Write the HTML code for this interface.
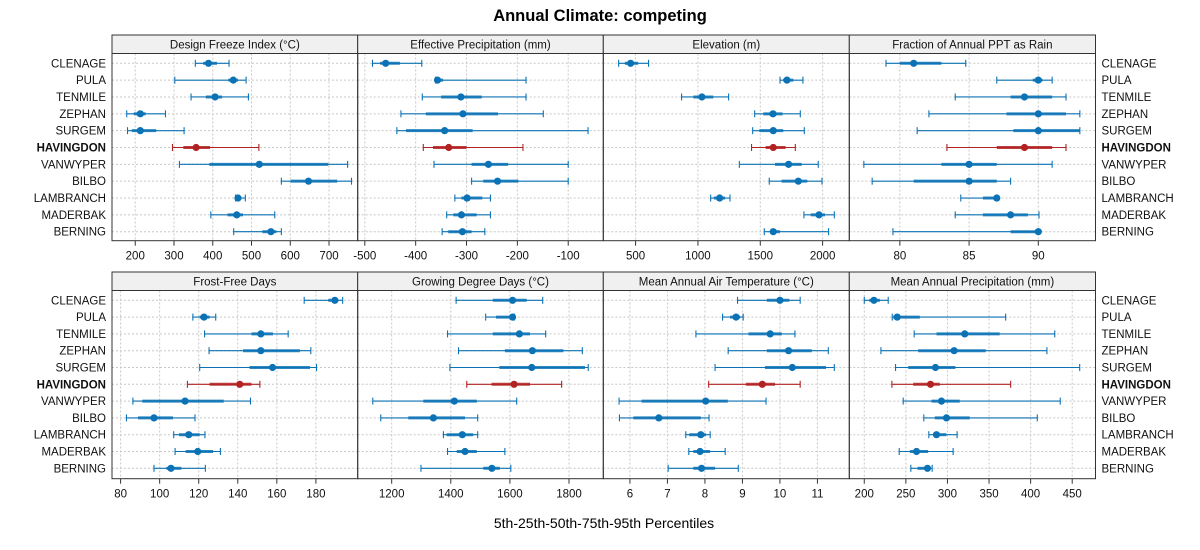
<!DOCTYPE html>
<html><head><meta charset="utf-8"><style>
body{margin:0;background:#fff;}
svg{display:block;font-family:"Liberation Sans",sans-serif;}
</style></head><body>
<svg id="chart" width="1200" height="550" viewBox="0 0 1200 550" xmlns="http://www.w3.org/2000/svg">
<text x="600" y="21" text-anchor="middle" font-size="16.5" font-weight="bold">Annual Climate: competing</text>
<text x="604" y="528" text-anchor="middle" font-size="14">5th-25th-50th-75th-95th Percentiles</text>
</svg>
<script>
const categories = ["CLENAGE","PULA","TENMILE","ZEPHAN","SURGEM","HAVINGDON","VANWYPER","BILBO","LAMBRANCH","MADERBAK","BERNING"];
const highlight = "HAVINGDON";
const panelTitles = ["Design Freeze Index (°C)","Effective Precipitation (mm)","Elevation (m)","Fraction of Annual PPT as Rain","Frost-Free Days","Growing Degree Days (°C)","Mean Annual Air Temperature (°C)","Mean Annual Precipitation (mm)"];
const designFreeze = [[355,375,389,411,442],[302,440,453,465,486],[344,382,406,424,492],[178,196,213,227,278],[180,191,213,254,326],[296,324,357,393,519],[314,391,520,698,748],[577,601,647,721,758],[459,462,465,474,484],[395,438,462,478,560],[454,528,550,564,577]];
const effPrecip = [[-485,-470,-459,-431,-388],[-361,-360,-357,-346,-183],[-387,-350,-311,-270,-183],[-429,-380,-307,-238,-149],[-437,-419,-343,-288,-61],[-385,-366,-335,-300,-189],[-364,-290,-257,-218,-100],[-290,-267,-239,-198,-100],[-323,-310,-299,-269,-253],[-339,-326,-310,-280,-253],[-348,-336,-308,-290,-264]];
const elevation = [[364,414,460,521,604],[1658,1684,1714,1765,1842],[869,963,1032,1123,1246],[1455,1524,1602,1679,1821],[1439,1492,1604,1684,1853],[1430,1543,1604,1703,1781],[1332,1618,1727,1832,1965],[1572,1671,1805,1877,1995],[1102,1128,1174,1217,1257],[1850,1904,1971,2019,2094],[1532,1578,1604,1658,2048]];
const fracRain = [[79.0,80.0,81.0,83.0,84.76],[87.0,89.6,90,90.3,91.0],[84.0,88.0,89.0,91.0,92.0],[82.1,87.7,90,92,93],[81.25,88.2,90,93,93],[83.4,87,89,91,92],[77.4,83,85,87,91],[78,81,85,87,88],[84.4,86,87,87,87],[84,86,88,89.25,90.05],[79.5,88,90,90,90]];
const frostFree = [[174,186.3,189.7,191.5,193.7],[117,120.5,122.7,125.6,128.7],[123,147,151.8,158,165.8],[125.3,142.7,151.8,171.8,177.4],[120.5,146,157.8,177,180.3],[114.2,125.6,141,147,151.3],[86.3,91.1,113,132.8,146.5],[83,88.9,97.1,106.8,118.1],[107.2,109.9,114.9,120.5,123.2],[107.9,113.3,119.5,127.4,131.1],[97.1,103.4,105.8,111.1,123.4]];
const growingDD = [[1418,1542,1609,1657,1711],[1518,1553,1609,1613,1615],[1389,1542,1632,1668,1721],[1426,1583,1676,1781,1845],[1397,1564,1674,1854,1865],[1454,1538,1614,1668,1775],[1136,1307,1412,1488,1623],[1163,1256,1341,1448,1491],[1375,1386,1439,1476,1491],[1389,1420,1448,1488,1583],[1299,1510,1539,1566,1603]];
const airTemp = [[8.87,9.65,10.0,10.25,10.54],[8.47,8.67,8.83,8.94,9.02],[7.76,9.16,9.74,10.05,10.4],[8.62,9.65,10.23,10.85,11.29],[8.27,9.6,10.33,11.23,11.45],[8.1,9.09,9.53,9.87,10.54],[5.71,6.31,8.02,8.61,9.63],[5.72,6.09,6.77,7.89,8.11],[7.49,7.58,7.89,8.03,8.14],[7.57,7.69,7.87,8.14,8.54],[7.02,7.69,7.91,8.27,8.89]];
const annualPrecip = [[200,206,211.6,218.8,228.8],[233.6,234.8,239.6,266.8,370],[260,286.8,320.8,362.8,429],[220,264.8,308,346,419.6],[237.6,252.8,285.6,309.6,459],[233.2,258.8,279.6,290.8,376],[246.8,280.8,292.8,314.8,435.6],[271.6,284.8,298.8,326.8,408],[277.6,282.8,286.8,298.8,311.6],[242,254.8,262.8,276.8,306.8],[256,264,276,278.8,281.6]];
const ticks1 = [200,300,400,500,600,700];
const ticks2 = [-500,-400,-300,-200,-100];
const ticks3 = [500,1000,1500,2000];
const ticks4 = [80,85,90];
const ticks5 = [80,100,120,140,160,180];
const ticks6 = [1200,1400,1600,1800];
const ticks7 = [6,7,8,9,10,11];
const ticks8 = [200,250,300,350,400,450];

const panelData = [designFreeze,effPrecip,elevation,fracRain,frostFree,growingDD,airTemp,annualPrecip];
const panelTicks = [ticks1,ticks2,ticks3,ticks4,ticks5,ticks6,ticks7,ticks8];
const domains = [[140,774],[-514,-31],[241,2214],[76.35,94.13],[75.6,201.4],[1085,1916],[5.29,11.85],[182,478]];

const NS="http://www.w3.org/2000/svg";
const svg=document.getElementById("chart");
function mk(tag,attrs,parent){const e=document.createElementNS(NS,tag);for(const k in attrs)e.setAttribute(k,attrs[k]);(parent||svg).appendChild(e);return e;}
const colL=[112,357.7,603.3,849.3,1095.5];
const rowsGeom=[{strip:35,top:53.5,bottom:240.7,first:63.3,last:231.7},{strip:272,top:290.5,bottom:478.7,first:300.3,last:468.3}];
const BLUE="#0b72b5", RED="#b22222";

for(let p=0;p<8;p++){
  const r=Math.floor(p/4), c=p%4;
  const g=rowsGeom[r];
  const x0=colL[c], x1=colL[c+1];
  const dom=domains[p];
  const xs=v=>x0+(v-dom[0])/(dom[1]-dom[0])*(x1-x0);
  const ys=i=>g.first+i*(g.last-g.first)/(categories.length-1);
  const grp=mk("g",{});
  
  
  const strip=mk("rect",{x:x0,y:g.strip,width:x1-x0,height:g.top-g.strip,fill:"#f0f0f0",stroke:"#333","stroke-width":1},grp);
  
  
  const st=mk("text",{x:(x0+x1)/2,y:g.strip+13.5,"text-anchor":"middle","font-size":"11.5",fill:"#111"},grp);
  st.textContent=panelTitles[p];
  
  
  // grid
  panelTicks[p].forEach(t=>{
    const gl=mk("line",{x1:xs(t),x2:xs(t),y1:g.top,y2:g.bottom,stroke:"#c8c8c8","stroke-dasharray":"2,2","stroke-width":1},grp);
    
    
  });
  categories.forEach((cat,i)=>{
    const gl=mk("line",{x1:x0,x2:x1,y1:ys(i),y2:ys(i),stroke:"#c8c8c8","stroke-dasharray":"2,2","stroke-width":1},grp);
    
    
  });
  // marks
  panelData[p].forEach((d,i)=>{
    const col=categories[i]===highlight?RED:BLUE;
    const y=ys(i);
    const m=mk("g",{},grp);
    
    
    mk("line",{x1:xs(d[0]),x2:xs(d[4]),y1:y,y2:y,stroke:col,"stroke-width":1.1},m);
    mk("line",{x1:xs(d[0]),x2:xs(d[0]),y1:y-3.5,y2:y+3.5,stroke:col,"stroke-width":1.1},m);
    mk("line",{x1:xs(d[4]),x2:xs(d[4]),y1:y-3.5,y2:y+3.5,stroke:col,"stroke-width":1.1},m);
    mk("line",{x1:xs(d[1]),x2:xs(d[3]),y1:y,y2:y,stroke:col,"stroke-width":3,"stroke-opacity":0.85},m);
    mk("circle",{cx:xs(d[2]),cy:y,r:3.6,fill:col},m);
  });
  // box
  const box=mk("rect",{x:x0,y:g.top,width:x1-x0,height:g.bottom-g.top,fill:"none",stroke:"#333","stroke-width":1},grp);
  
  
  // ticks
  panelTicks[p].forEach(t=>{
    mk("line",{x1:xs(t),x2:xs(t),y1:g.bottom,y2:g.bottom+5,stroke:"#333","stroke-width":1},grp);
    const tl=mk("text",{x:xs(t),y:g.bottom+19,"text-anchor":"middle","font-size":"11.5",fill:"#111"},grp);
    tl.textContent=String(t);
    
    
  });
  // row labels
  if(c===0||c===3){
    categories.forEach((cat,i)=>{
      const lab=mk("text",{x:c===0?x0-6:x1+6,y:ys(i)+4,"text-anchor":c===0?"end":"start","font-size":"11.5",fill:"#111","font-weight":cat===highlight?"bold":"normal"},grp);
      lab.textContent=cat;
      
      
    });
  }
}
</script>
</body></html>
